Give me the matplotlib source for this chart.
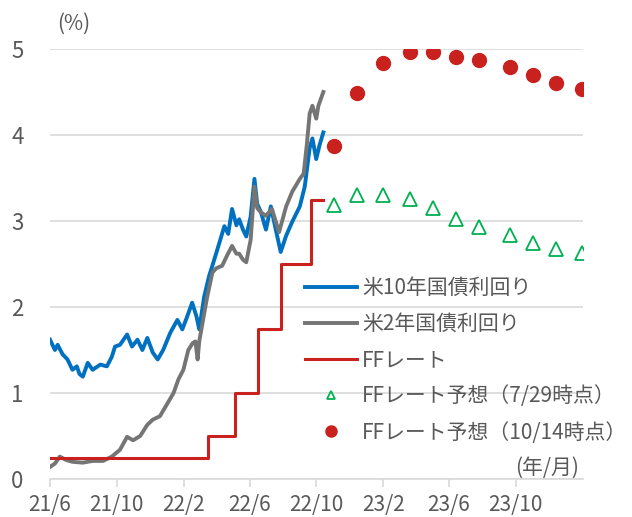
import matplotlib
matplotlib.use("Agg")
import matplotlib.pyplot as plt
from matplotlib.lines import Line2D
import pandas as pd

plt.rcParams['font.family'] = ['Noto Sans CJK JP', 'DejaVu Sans']

# 米10年国債利回り
y10_dates = ['2021-06-01', '2021-06-10', '2021-06-15', '2021-06-24', '2021-07-03', '2021-07-12',
             '2021-07-20', '2021-07-25', '2021-07-31', '2021-08-09', '2021-08-18', '2021-09-01',
             '2021-09-13', '2021-09-22', '2021-09-28', '2021-10-07', '2021-10-20', '2021-10-29',
             '2021-11-08', '2021-11-17', '2021-11-26', '2021-12-06', '2021-12-15', '2021-12-25',
             '2022-01-07', '2022-01-20', '2022-01-29', '2022-02-07', '2022-02-16', '2022-02-24',
             '2022-03-01', '2022-03-10', '2022-03-19', '2022-03-26', '2022-04-07', '2022-04-16',
             '2022-04-23', '2022-04-30', '2022-05-08', '2022-05-13', '2022-05-20', '2022-05-26',
             '2022-06-03', '2022-06-10', '2022-06-15', '2022-06-22', '2022-07-01', '2022-07-10',
             '2022-07-19', '2022-07-28', '2022-08-07', '2022-08-18', '2022-09-01', '2022-09-10',
             '2022-09-19', '2022-09-24', '2022-10-01', '2022-10-07', '2022-10-14']
y10_vals = [1.62, 1.50, 1.56, 1.45, 1.39, 1.27,
            1.31, 1.22, 1.19, 1.35, 1.27, 1.33,
            1.31, 1.42, 1.54, 1.56, 1.68, 1.54,
            1.62, 1.50, 1.64, 1.47, 1.39, 1.50,
            1.70, 1.85, 1.74, 1.89, 2.05, 1.89,
            1.74, 2.12, 2.36, 2.50, 2.75, 2.94,
            2.85, 3.14, 2.95, 3.02, 2.90, 2.82,
            3.05, 3.49, 3.20, 3.10, 2.90, 3.17,
            2.90, 2.64, 2.83, 2.99, 3.17, 3.40,
            3.85, 3.96, 3.72, 3.88, 4.03]

# 米2年国債利回り
y2_dates = ['2021-06-01', '2021-06-10', '2021-06-19', '2021-07-01', '2021-07-12', '2021-07-31',
            '2021-08-18', '2021-09-06', '2021-09-22', '2021-10-07', '2021-10-20', '2021-10-31',
            '2021-11-13', '2021-11-26', '2021-12-06', '2021-12-19', '2022-01-02', '2022-01-13',
            '2022-01-22', '2022-01-31', '2022-02-09', '2022-02-17', '2022-02-22', '2022-02-26',
            '2022-03-01', '2022-03-06', '2022-03-15', '2022-03-25', '2022-04-01', '2022-04-12',
            '2022-04-21', '2022-04-30', '2022-05-08', '2022-05-13', '2022-05-20', '2022-05-26',
            '2022-06-03', '2022-06-10', '2022-06-15', '2022-06-22', '2022-07-01', '2022-07-12',
            '2022-07-25', '2022-08-07', '2022-08-18', '2022-09-01', '2022-09-08', '2022-09-14',
            '2022-09-19', '2022-09-24', '2022-10-01', '2022-10-05', '2022-10-14']
y2_vals = [0.14, 0.18, 0.26, 0.22, 0.20, 0.19,
           0.21, 0.21, 0.26, 0.34, 0.49, 0.45,
           0.50, 0.63, 0.69, 0.73, 0.88, 1.00,
           1.16, 1.27, 1.50, 1.58, 1.60, 1.39,
           1.60, 1.78, 2.10, 2.40, 2.45, 2.48,
           2.60, 2.71, 2.62, 2.62, 2.55, 2.52,
           2.78, 3.40, 3.15, 3.10, 3.06, 3.14,
           2.87, 3.17, 3.34, 3.49, 3.55, 3.90,
           4.25, 4.34, 4.19, 4.34, 4.50]

# FFレート (upper bound, step changes)
ff_dates = ['2021-06-01', '2022-03-17', '2022-05-05', '2022-06-16', '2022-07-28', '2022-09-22', '2022-10-14']
ff_vals = [0.25, 0.50, 1.00, 1.75, 2.50, 3.25, 3.25]

# FFレート予想 (FOMC dates)
fc_dates = ['2022-11-02', '2022-12-14', '2023-02-01', '2023-03-22', '2023-05-03', '2023-06-14',
            '2023-07-26', '2023-09-20', '2023-11-01', '2023-12-13', '2024-01-31']
fc_0729 = [3.19, 3.30, 3.30, 3.26, 3.15, 3.02, 2.93, 2.84, 2.74, 2.67, 2.63]
fc_1014 = [3.87, 4.49, 4.84, 4.96, 4.96, 4.91, 4.87, 4.79, 4.70, 4.61, 4.54]

tick_dates = ['2021-06-01', '2021-10-01', '2022-02-01', '2022-06-01',
              '2022-10-01', '2023-02-01', '2023-06-01', '2023-10-01']
tick_labels = ['21/6', '21/10', '22/2', '22/6', '22/10', '23/2', '23/6', '23/10']

c_blue = '#0070c0'
c_gray = '#757575'
c_red = '#c9211e'
c_green = '#00b050'
c_text = '#595959'
c_grid = '#d9d9d9'

fig = plt.figure(figsize=(6.32, 5.17), dpi=100)
ax = fig.add_axes([50 / 632, 1 - 479 / 517, 533 / 632, 430 / 517])

ax.plot(pd.to_datetime(y10_dates), y10_vals, color=c_blue, lw=2.8, solid_joinstyle='round')
ax.plot(pd.to_datetime(y2_dates), y2_vals, color=c_gray, lw=2.8, solid_joinstyle='round')
ax.step(pd.to_datetime(ff_dates), ff_vals, where='post', color=c_red, lw=2.2)
ax.plot(pd.to_datetime(fc_dates), fc_0729, ls='none', marker='^', ms=9.5,
        mfc='white', mec=c_green, mew=1.3)
ax.plot(pd.to_datetime(fc_dates), fc_1014, ls='none', marker='o', ms=10,
        mfc=c_red, mec=c_red)

ax.set_ylim(0, 5)
ax.set_yticks([0, 1, 2, 3, 4, 5])
ax.set_xlim(pd.Timestamp('2021-06-01'), pd.Timestamp('2024-02-01'))
ax.set_xticks(pd.to_datetime(tick_dates))
ax.set_xticklabels(tick_labels)

ax.grid(axis='y', color=c_grid, lw=1.2)
ax.set_axisbelow(True)
for s in ['top', 'right', 'left']:
    ax.spines[s].set_visible(False)
ax.spines['bottom'].set_color(c_grid)
ax.spines['bottom'].set_linewidth(1.2)
ax.tick_params(axis='y', length=0, pad=19, labelsize=16, labelcolor=c_text)
ax.tick_params(axis='x', length=6, width=1.2, color=c_grid, pad=5, labelsize=15, labelcolor=c_text)

fig.text(74 / 632, 1 - 24 / 517, '(%)', ha='center', va='center', fontsize=15, color=c_text)
fig.text(579 / 632, 1 - 468 / 517, '(年/月)', ha='right', va='center', fontsize=15, color=c_text)

handles = [
    Line2D([], [], color=c_blue, lw=2.8),
    Line2D([], [], color=c_gray, lw=2.8),
    Line2D([], [], color=c_red, lw=2.2),
    Line2D([], [], ls='none', marker='^', ms=6, mfc='white', mec=c_green, mew=1.3),
    Line2D([], [], ls='none', marker='o', ms=8, mfc=c_red, mec=c_red),
]
labels = ['米10年国債利回り', '米2年国債利回り', 'FFレート',
          'FFレート予想（7/29時点）', 'FFレート予想（10/14時点）']
ax.legend(handles, labels, loc='upper left', bbox_to_anchor=(305 / 632, 1 - 277 / 517),
          bbox_transform=fig.transFigure, frameon=False, fontsize=15, labelcolor=c_text,
          handlelength=2.5, handletextpad=0.25, labelspacing=0.68, borderpad=0, borderaxespad=0)

fig.savefig('out.png', dpi=100)
